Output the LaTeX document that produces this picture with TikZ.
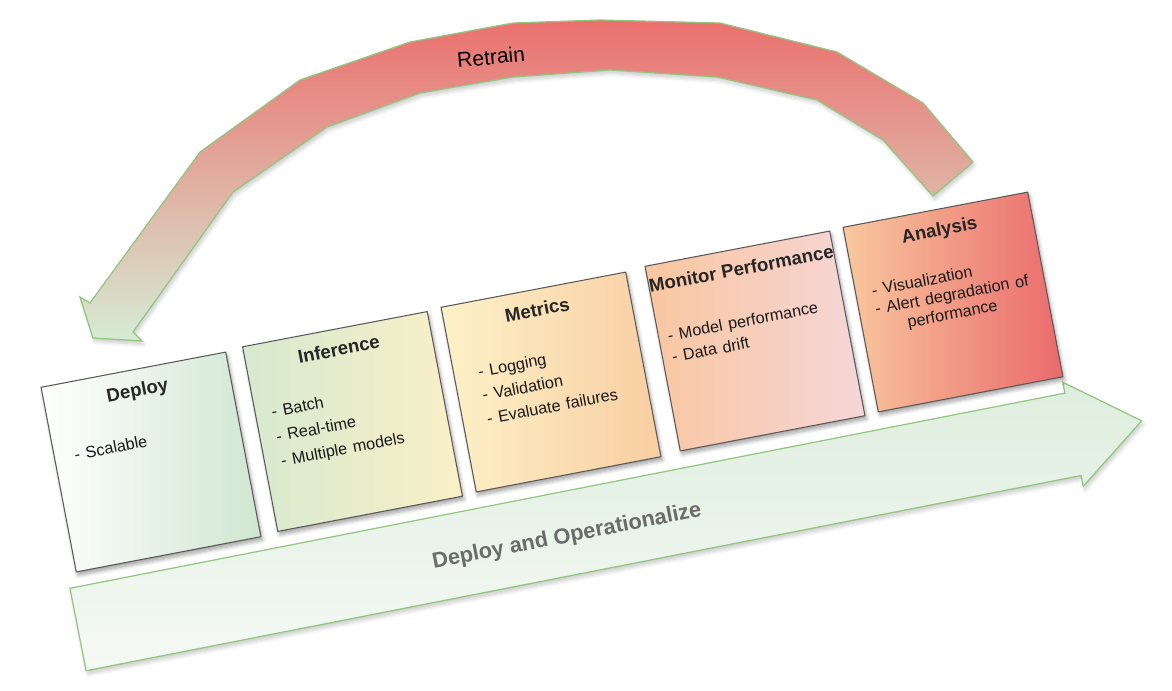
\documentclass[tikz,border=0pt]{standalone}
\usepackage{fontspec}
\setmainfont{Liberation Sans}
\usetikzlibrary{shadows, shadows.blur}

\definecolor{deployR}{RGB}{208,230,208}
\definecolor{inferL}{RGB}{214,233,208}
\definecolor{inferR}{RGB}{250,240,198}
\definecolor{metricL}{RGB}{253,241,200}
\definecolor{metricR}{RGB}{249,206,162}
\definecolor{monitorL}{RGB}{249,198,160}
\definecolor{monitorR}{RGB}{246,214,216}
\definecolor{analysisL}{RGB}{249,200,158}
\definecolor{analysisR}{RGB}{234,106,108}
\definecolor{retrainR}{RGB}{235,112,110}
\definecolor{retrainG}{RGB}{214,236,212}
\definecolor{opsG}{RGB}{222,238,222}
\definecolor{opsW}{RGB}{245,249,245}
\definecolor{edgeG}{RGB}{146,198,126}

\newcommand{\listfont}[1]{\fontsize{9.25}{#1}\selectfont}

\tikzset{
  card/.style={draw=black!65, line width=0.6pt, minimum width=3.76cm, minimum height=3.76cm,
    blur shadow={shadow xshift=1pt, shadow yshift=-2pt, shadow opacity=35, shadow blur steps=6}},
  cardtitle/.style={font=\fontsize{10.6}{12}\selectfont\bfseries, text=black!85, anchor=base, inner sep=0pt},
  cardlist/.style={align=left, text width=3.5cm, anchor=north west, inner sep=0pt, text=black!90,
    execute at begin node={\listfont{#1}}},
  bigarrow/.style={draw=edgeG, line width=0.7pt,
    blur shadow={shadow xshift=1pt, shadow yshift=-2pt, shadow opacity=20, shadow blur steps=6}},
}

\begin{document}
\begin{tikzpicture}[x=0.02cm, y=-0.02cm]
  \useasboundingbox (0,0) rectangle (1172,690);

  % lower arrow
  \begin{scope}[shift={(78,629.5)}, rotate=11.1]
    \path[bigarrow, top color=opsG, bottom color=opsW]
      (0,-42) -- (1014,-42) -- (1014,-53) -- (1084,0) -- (1014,53) -- (1014,42) -- (0,42) -- cycle;
  \end{scope}
  \node[font=\fontsize{12.4}{14}\selectfont\bfseries, text=black!58, rotate=11.1] (operationalize) at (567,537) {Deploy and Operationalize};

  % retrain loop
  \path[bigarrow, top color=retrainR, bottom color=retrainG]
    (973,162) -- (923,103) -- (837,52) -- (720,23) -- (600,20) -- (513,23) -- (410,42)
    -- (300,80) -- (200,152) -- (90,303) -- (80,297) -- (93,338) -- (142,341) -- (133,332)
    -- (233,192) -- (327,127) -- (420,93) -- (513,77) -- (610,70) -- (717,77) -- (817,100)
    -- (883,140) -- (933,196) -- cycle;
  \node[font=\fontsize{12}{14}\selectfont, rotate=5.7] (retrain) at (491,57) {Retrain};

  % the five stages
  \begin{scope}[shift={(151,462)}, rotate=10.8, transform shape]
    \node[card, left color=white, right color=deployR] (deploy) at (0,0) {};
    \node[cardtitle] (deploy-title) at (0,-67) {Deploy};
    \node[cardlist=14] (deploy-list) at (-74,-28) {- Scalable};
  \end{scope}

  \begin{scope}[shift={(352.5,421.5)}, rotate=10.8, transform shape]
    \node[card, left color=inferL, right color=inferR] (inference) at (0,0) {};
    \node[cardtitle] (inference-title) at (0,-67) {Inference};
    \node[cardlist=14.2] (inference-list) at (-78,-31)
      {- Batch\\- Real-time\\- Multiple models};
  \end{scope}

  \begin{scope}[shift={(551,382)}, rotate=10.8, transform shape]
    \node[card, left color=metricL, right color=metricR] (metrics) at (0,0) {};
    \node[cardtitle] (metrics-title) at (0,-67) {Metrics};
    \node[cardlist=13.6] (metrics-list) at (-70,-30)
      {- Logging\\- Validation\\- Evaluate failures};
  \end{scope}

  \begin{scope}[shift={(755,341)}, rotate=10.8, transform shape]
    \node[card, left color=monitorL, right color=monitorR] (monitor) at (0,0) {};
    \node[cardtitle] (monitor-title) at (0,-67) {Monitor Performance};
    \node[cardlist=12.5] (monitor-list) at (-85,-28)
      {- Model performance\\- Data drift};
  \end{scope}

  \begin{scope}[shift={(953,302)}, rotate=10.8, transform shape]
    \node[card, left color=analysisL, right color=analysisR] (analysis) at (0,0) {};
    \node[cardtitle] (analysis-title) at (0,-67) {Analysis};
    \node[cardlist=10.8] (analysis-list) at (-78,-33)
      {- Visualization\\- Alert degradation of\\\hspace*{1.8em}performance};
  \end{scope}
\end{tikzpicture}
\end{document}
